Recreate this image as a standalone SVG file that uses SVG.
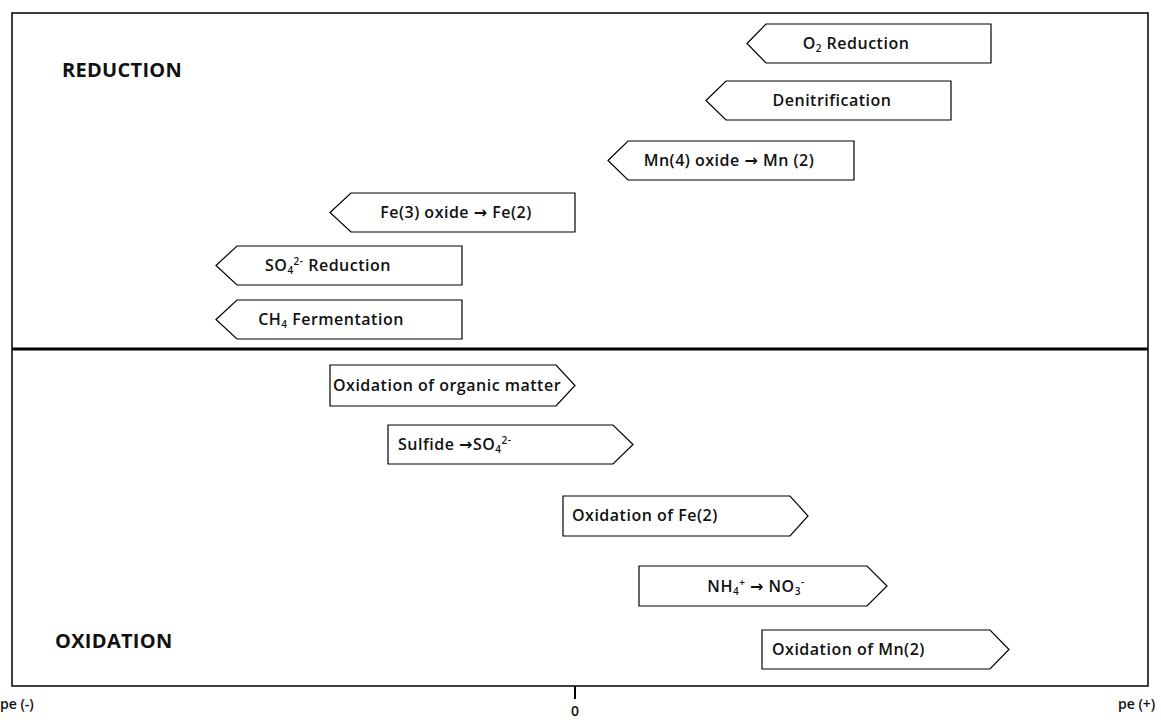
<svg xmlns="http://www.w3.org/2000/svg" width="1161" height="720" viewBox="0 0 1161 720">
<style>
.sh{fill:#fff;stroke:#000;stroke-width:1.2}
.t{font-family:"Open Sans","Liberation Sans",Arial,sans-serif;font-weight:600;font-size:16px;letter-spacing:0.5px;fill:#111}
.h{font-family:"Open Sans","Liberation Sans",Arial,sans-serif;font-weight:bold;font-size:20px;letter-spacing:0.3px;fill:#111}
.ax{font-family:"Open Sans","Liberation Sans",Arial,sans-serif;font-weight:600;font-size:14px;fill:#111}
.ar{font-family:"DejaVu Sans",sans-serif;font-weight:bold}
.sb{font-size:10px}
</style>
<rect x="12" y="13" width="1136" height="673" fill="#fff" stroke="#000" stroke-width="1.5"/>
<g id="connectors">
<line x1="12" y1="349" x2="1148" y2="349" stroke="#000" stroke-width="3"/>
<line x1="575" y1="686" x2="575" y2="699" stroke="#000" stroke-width="2"/>
</g>
<text class="h" x="62" y="77">REDUCTION</text>
<text class="h" x="55" y="648">OXIDATION</text>
<text class="ax" x="0" y="709">pe (-)</text>
<text class="ax" x="1118" y="709">pe (+)</text>
<text class="ax" x="575" y="716" text-anchor="middle">0</text>
<g id="o2red"><path class="sh" d="M747,43.5 L766,24 L991,24 L991,63 L766,63 Z"/><text class="t" x="856" y="49" text-anchor="middle">O<tspan class="sb" dy="3">2</tspan><tspan dy="-3"> Reduction</tspan></text></g>
<g id="denit"><path class="sh" d="M706,100.5 L726,81 L951,81 L951,120 L726,120 Z"/><text class="t" x="832" y="106" text-anchor="middle">Denitrification</text></g>
<g id="mn4"><path class="sh" d="M608,160.5 L628,141 L854,141 L854,180 L628,180 Z"/><text class="t" x="729" y="166" text-anchor="middle">Mn(4) oxide <tspan class="ar">→</tspan> Mn (2)</text></g>
<g id="fe3"><path class="sh" d="M330,212.5 L351,193 L575,193 L575,232 L351,232 Z"/><text class="t" x="456" y="218" text-anchor="middle">Fe(3) oxide <tspan class="ar">→</tspan> Fe(2)</text></g>
<g id="so4red"><path class="sh" d="M216,265.5 L237,246 L462,246 L462,285 L237,285 Z"/><text class="t" x="265" y="271">SO<tspan class="sb" dy="3">4</tspan><tspan class="sb" dy="-9">2-</tspan><tspan dy="6"> Reduction</tspan></text></g>
<g id="ch4"><path class="sh" d="M216,319.5 L237,300 L462,300 L462,339 L237,339 Z"/><text class="t" x="331" y="325" text-anchor="middle">CH<tspan class="sb" dy="3">4</tspan><tspan dy="-3"> Fermentation</tspan></text></g>
<g id="oxorg"><path class="sh" d="M330,365 L556,365 L575,385.5 L556,406 L330,406 Z"/><text class="t" x="333" y="391">Oxidation of organic matter</text></g>
<g id="sulfide"><path class="sh" d="M388,425 L613,425 L633,444.5 L613,464 L388,464 Z"/><text class="t" x="398" y="450">Sulfide <tspan class="ar">→</tspan>SO<tspan class="sb" dy="3">4</tspan><tspan class="sb" dy="-9">2-</tspan></text></g>
<g id="oxfe"><path class="sh" d="M563,496 L790,496 L808,516 L790,536 L563,536 Z"/><text class="t" x="572" y="521">Oxidation of Fe(2)</text></g>
<g id="nh4"><path class="sh" d="M639,566 L867,566 L887,586 L867,606 L639,606 Z"/><text class="t" x="756" y="592" text-anchor="middle">NH<tspan class="sb" dy="3">4</tspan><tspan class="sb" dy="-9">+</tspan><tspan dy="6"> </tspan><tspan class="ar">→</tspan> NO<tspan class="sb" dy="3">3</tspan><tspan class="sb" dy="-9">-</tspan></text></g>
<g id="oxmn"><path class="sh" d="M762,630 L990,630 L1009,649.5 L990,669 L762,669 Z"/><text class="t" x="772" y="655">Oxidation of Mn(2)</text></g>
</svg>
